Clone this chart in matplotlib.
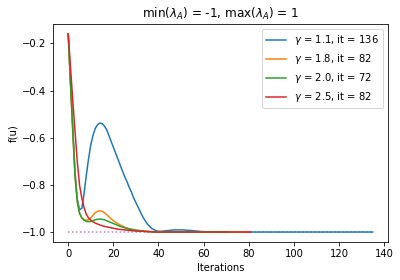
import matplotlib
matplotlib.use("Agg")
import matplotlib.pyplot as plt
import numpy as np

# f(u) per iteration
f_g11 = [-0.16, -0.36, -0.55, -0.74, -0.86, -0.905, -0.90, -0.84, -0.76, -0.69,
         -0.63, -0.59, -0.56, -0.545, -0.538, -0.54, -0.55, -0.565, -0.59, -0.615,
         -0.64, -0.665, -0.69, -0.715, -0.74, -0.765, -0.785, -0.81, -0.83, -0.855,
         -0.875, -0.895, -0.915, -0.935, -0.95, -0.965, -0.975, -0.985, -0.99, -0.995,
         -0.997, -0.997, -0.996, -0.995, -0.994, -0.993, -0.992, -0.991, -0.991, -0.991,
         -0.991, -0.991, -0.992, -0.993, -0.993, -0.994, -0.995, -0.996, -0.997, -0.998,
         -0.998, -0.999, -0.999, -0.999, -0.999, -0.999, -0.999, -0.999, -0.999, -0.999] + [-1.0] * 66
f_g18 = [-0.16, -0.37, -0.57, -0.76, -0.87, -0.92, -0.94, -0.947, -0.95, -0.948,
         -0.94, -0.928, -0.918, -0.912, -0.91, -0.912, -0.918, -0.926, -0.935, -0.944,
         -0.952, -0.959, -0.965, -0.97, -0.975, -0.979, -0.983, -0.986, -0.988, -0.99,
         -0.992, -0.993, -0.994, -0.995, -0.996, -0.997, -0.998, -0.998, -0.999, -0.999] + [-1.0] * 42
f_g20 = [-0.16, -0.37, -0.57, -0.76, -0.87, -0.92, -0.94, -0.95, -0.955, -0.956,
         -0.955, -0.952, -0.948, -0.946, -0.945, -0.946, -0.948, -0.952, -0.956, -0.96,
         -0.964, -0.968, -0.972, -0.976, -0.979, -0.982, -0.985, -0.987, -0.989, -0.991,
         -0.993, -0.994, -0.995, -0.996, -0.997, -0.998, -0.998, -0.999] + [-1.0] * 34
f_g25 = [-0.16, -0.30, -0.44, -0.57, -0.70, -0.80, -0.855, -0.895, -0.925, -0.94,
         -0.95, -0.957, -0.962, -0.966, -0.97, -0.973, -0.976, -0.978, -0.98, -0.982,
         -0.984, -0.986, -0.988, -0.989, -0.99, -0.991, -0.992, -0.993, -0.994, -0.995,
         -0.996, -0.996, -0.997, -0.997, -0.998, -0.998, -0.999, -0.999] + [-1.0] * 44

gammas = ["1.1", "1.8", "2.0", "2.5"]
runs = [f_g11, f_g18, f_g20, f_g25]
f_min = -1.0

fig = plt.figure(figsize=(400 / 72, 280 / 72), dpi=72)
ax = fig.add_subplot(111)
fig.subplots_adjust(left=0.1325, right=0.97, top=0.914, bottom=0.136)

n_max = max(len(r) for r in runs)
ax.plot(range(n_max), [f_min] * n_max, ":", color="tab:purple", alpha=0.8)
for g, r in zip(gammas, runs):
    ax.plot(range(len(r)), r, label=r"$\gamma$ = {}, it = {}".format(g, len(r)))

ax.set_title(r"min($\lambda_A$) = -1, max($\lambda_A$) = 1")
ax.set_xlabel("Iterations")
ax.set_ylabel("f(u)")
ax.legend(loc="upper right")

fig.savefig("out.png", dpi=72)
